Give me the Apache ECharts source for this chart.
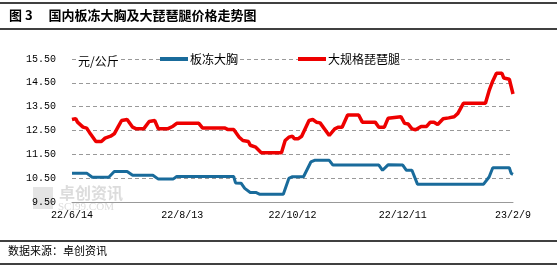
<!DOCTYPE html>
<html>
<head>
<meta charset="utf-8">
<script src="https://cdn.jsdelivr.net/npm/echarts@6/dist/echarts.min.js"></script>
<style>
html,body{margin:0;padding:0;background:#fff;}
#c{width:557px;height:270px;}
</style>
</head>
<body>
<div id="c"></div>
<script>
// ---- data ----
const titleText = '图 3\u3000 国内板冻大胸及大琵琶腿价格走势图';
const sourceText = '数据来源：卓创资讯';
const unitText = '元/公斤';
const seriesNames = ['板冻大胸', '大规格琵琶腿'];
const xTickDates = ['2022-06-14', '2022-08-13', '2022-10-12', '2022-12-11', '2023-02-09'];
const yTicks = [9.5, 10.5, 11.5, 12.5, 13.5, 14.5, 15.5];

const blueDates = ['2022-06-14','2022-06-22','2022-06-25','2022-07-04','2022-07-07','2022-07-14','2022-07-17','2022-07-28','2022-07-31','2022-08-08','2022-08-10','2022-09-10','2022-09-11','2022-09-14','2022-09-16','2022-09-19','2022-09-22','2022-09-24','2022-10-07','2022-10-10','2022-10-12','2022-10-18','2022-10-22','2022-10-24','2022-11-01','2022-11-03','2022-11-28','2022-11-30','2022-12-03','2022-12-11','2022-12-13','2022-12-16','2022-12-19','2023-01-24','2023-01-27','2023-01-29','2023-02-07','2023-02-08','2023-02-09'];
const blueValues = [10.71,10.71,10.54,10.54,10.78,10.78,10.62,10.62,10.46,10.46,10.57,10.57,10.30,10.29,10.07,9.90,9.90,9.83,9.83,10.49,10.56,10.56,11.18,11.25,11.25,11.05,11.05,10.83,11.06,11.05,10.83,10.83,10.25,10.25,10.55,10.94,10.94,10.70,10.66];

const redDates = ['2022-06-14','2022-06-16','2022-06-17','2022-06-20','2022-06-22','2022-06-24','2022-06-27','2022-06-30','2022-07-02','2022-07-05','2022-07-07','2022-07-09','2022-07-11','2022-07-14','2022-07-17','2022-07-19','2022-07-23','2022-07-26','2022-07-29','2022-07-31','2022-08-05','2022-08-08','2022-08-10','2022-08-22','2022-08-24','2022-09-05','2022-09-07','2022-09-10','2022-09-13','2022-09-15','2022-09-18','2022-09-19','2022-09-22','2022-09-25','2022-10-06','2022-10-08','2022-10-10','2022-10-12','2022-10-13','2022-10-15','2022-10-17','2022-10-18','2022-10-21','2022-10-23','2022-10-25','2022-10-27','2022-11-01','2022-11-04','2022-11-06','2022-11-08','2022-11-11','2022-11-17','2022-11-19','2022-11-26','2022-11-28','2022-12-01','2022-12-03','2022-12-10','2022-12-12','2022-12-14','2022-12-16','2022-12-18','2022-12-21','2022-12-24','2022-12-26','2022-12-28','2022-12-30','2023-01-02','2023-01-05','2023-01-08','2023-01-10','2023-01-13','2023-01-25','2023-01-27','2023-01-29','2023-01-31','2023-02-03','2023-02-04','2023-02-07','2023-02-09'];
const redValues = [12.96,13.00,12.85,12.64,12.60,12.36,12.04,12.04,12.18,12.26,12.36,12.64,12.92,12.96,12.64,12.57,12.57,12.88,12.92,12.57,12.57,12.68,12.80,12.80,12.61,12.61,12.54,12.54,12.22,12.08,12.04,11.88,11.80,11.57,11.57,12.08,12.22,12.26,12.15,12.15,12.26,12.28,12.92,12.96,12.85,12.82,12.29,12.57,12.64,12.64,13.15,13.15,12.85,12.85,12.64,12.64,13.01,13.08,12.80,12.77,12.57,12.53,12.67,12.67,12.85,12.85,12.75,12.99,13.03,13.08,13.22,13.64,13.64,14.17,14.58,14.90,14.90,14.70,14.65,14.03];

// ---- helpers ----
function ts(s){ const p = s.split('-').map(Number); return new Date(p[0], p[1]-1, p[2]).getTime(); }
function pairs(dates, vals){ return dates.map((d,i)=>[ts(d), vals[i]]); }
function fmtDate(v){ const d = new Date(v); return (d.getFullYear()%100)+'/'+(d.getMonth()+1)+'/'+d.getDate(); }

const chart = echarts.init(document.getElementById('c'), null, {renderer:'canvas'});
const monoFont = '"Liberation Mono", "DejaVu Sans Mono", monospace';
const cjkFont = '"Noto Sans CJK SC", sans-serif';

chart.setOption({
  animation: false,
  backgroundColor: '#fff',
  grid: {left: 72, right: 44, top: 59, bottom: 68, containLabel: false},
  xAxis: {
    type: 'value',
    min: ts(xTickDates[0]),
    max: ts(xTickDates[xTickDates.length-1]),
    axisLine: {show: true, lineStyle: {color: '#999', width: 1}},
    axisTick: {show: false},
    splitLine: {show: false},
    axisLabel: {
      customValues: xTickDates.map(ts),
      formatter: fmtDate,
      color: '#000', fontFamily: monoFont, fontSize: 10, margin: 8,
      showMinLabel: true, showMaxLabel: true
    }
  },
  yAxis: {
    type: 'value',
    min: yTicks[0], max: yTicks[yTicks.length-1], interval: 1,
    axisLine: {show: false},
    axisTick: {show: false},
    splitLine: {show: true, lineStyle: {color: '#999', type: [4, 3], width: 1}},
    axisLabel: {
      formatter: v => v.toFixed(2),
      color: '#000', fontFamily: monoFont, fontSize: 10, margin: 16
    }
  },
  legend: [
    {
      data: [seriesNames[0]], left: 160, top: 52, itemWidth: 28, itemHeight: 4, itemGap: 2,
      padding: [1, 0, 1, 0], backgroundColor: '#fff',
      icon: 'rect',
      textStyle: {fontFamily: cjkFont, fontSize: 12, color: '#000', padding: [0, 0, 0, -3]}
    },
    {
      data: [seriesNames[1]], left: 298, top: 52, itemWidth: 28, itemHeight: 4, itemGap: 2,
      padding: [1, 0, 1, 0], backgroundColor: '#fff',
      icon: 'rect',
      textStyle: {fontFamily: cjkFont, fontSize: 12, color: '#000', padding: [0, 0, 0, -3]}
    }
  ],
  graphic: [
    {type: 'line', shape: {x1: 0, y1: 3, x2: 557, y2: 3}, style: {stroke: '#000', lineWidth: 1.5}},
    {type: 'text', left: 9, top: 9, style: {text: titleText, font: 'bold 13px "Noto Sans CJK SC", sans-serif', fill: '#000'}},
    {type: 'line', shape: {x1: 0, y1: 29, x2: 557, y2: 29}, style: {stroke: '#000', lineWidth: 1.5}},
    {type: 'text', left: 77, top: 55, z: 10, style: {text: unitText, font: '12px "Noto Sans CJK SC", sans-serif', fill: '#000', backgroundColor: '#fff', padding: [0, 1]}},
    {type: 'rect', shape: {x: 33, y: 187, width: 20, height: 22}, style: {fill: '#e4e4e4'}, z: 0},
    {type: 'text', left: 59, top: 185, z: 0, style: {text: '卓创资讯', font: 'bold 16px "Noto Sans CJK SC", sans-serif', fill: '#dcdcdc'}},
    {type: 'text', left: 58, top: 202, z: 0, style: {text: 'SCI99.COM', font: '11px "Liberation Serif", serif', fill: '#dcdcdc'}},
    {type: 'line', shape: {x1: 0, y1: 241, x2: 557, y2: 241}, style: {stroke: '#000', lineWidth: 1.5}},
    {type: 'text', left: 8, top: 245, style: {text: sourceText, font: '11px "Noto Sans CJK SC", sans-serif', fill: '#000'}},
    {type: 'line', shape: {x1: 0, y1: 264, x2: 557, y2: 264}, style: {stroke: '#000', lineWidth: 1.5}}
  ],
  series: [
    {
      name: seriesNames[0], type: 'line', data: pairs(blueDates, blueValues),
      showSymbol: false, symbol: 'none', smooth: false,
      lineStyle: {color: '#196b9b', width: 3}, itemStyle: {color: '#196b9b'}, z: 3
    },
    {
      name: seriesNames[1], type: 'line', data: pairs(redDates, redValues),
      showSymbol: false, symbol: 'none', smooth: false,
      lineStyle: {color: '#ee0000', width: 3.5}, itemStyle: {color: '#ee0000'}, z: 3
    }
  ]
});
</script>
</body>
</html>
